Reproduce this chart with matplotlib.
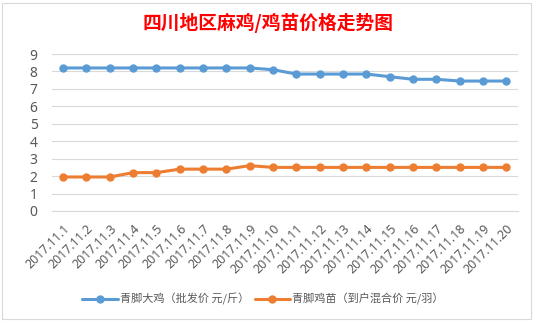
import matplotlib
matplotlib.use("Agg")
import matplotlib.pyplot as plt
from matplotlib.patches import Rectangle

plt.rcParams['font.family'] = ['Noto Sans CJK SC', 'DejaVu Sans']

dates = ["2017.11.1", "2017.11.2", "2017.11.3", "2017.11.4", "2017.11.5",
         "2017.11.6", "2017.11.7", "2017.11.8", "2017.11.9", "2017.11.10",
         "2017.11.11", "2017.11.12", "2017.11.13", "2017.11.14", "2017.11.15",
         "2017.11.16", "2017.11.17", "2017.11.18", "2017.11.19", "2017.11.20"]
big_chicken = [8.2, 8.2, 8.2, 8.2, 8.2, 8.2, 8.2, 8.2, 8.2, 8.1,
               7.85, 7.85, 7.85, 7.85, 7.7, 7.55, 7.55, 7.45, 7.45, 7.45]
chick = [1.95, 1.95, 1.95, 2.2, 2.2, 2.4, 2.4, 2.4, 2.6, 2.5,
         2.5, 2.5, 2.5, 2.5, 2.5, 2.5, 2.5, 2.5, 2.5, 2.5]
series_names = ["青脚大鸡（批发价 元/斤）", "青脚鸡苗（到户混合价 元/羽）"]
title = "四川地区麻鸡/鸡苗价格走势图"
yticks = list(range(0, 10))

W, H = 535, 322
fig = plt.figure(figsize=(W / 100, H / 100), dpi=100)
fig.patch.set_facecolor("white")

# faint outer frame (spreadsheet cell border)
fig.add_artist(Rectangle((2 / W, 3 / H), 529 / W, 316 / H, transform=fig.transFigure,
                         fill=False, edgecolor="#D9D9D9", linewidth=0.8))

ax = fig.add_axes([51.5 / W, 1 - 211 / H, 466.5 / W, 157 / H])
x = list(range(len(dates)))
ax.plot(x, big_chicken, color="#5B9BD5", linewidth=2.2, marker="o", markersize=5,
        label=series_names[0], solid_capstyle="round")
ax.plot(x, chick, color="#ED7D31", linewidth=2.2, marker="o", markersize=5,
        label=series_names[1], solid_capstyle="round")

ax.set_xlim(-0.5, len(dates) - 0.5)
ax.set_ylim(0, 9)
ax.set_yticks(yticks)
ax.set_yticklabels([str(v) for v in yticks], color="#595959", fontsize=10)
for lab in ax.get_yticklabels():
    lab.set_family(['Noto Sans'])
ax.yaxis.grid(True, color="#D9D9D9", linewidth=0.8)
ax.set_axisbelow(True)
for s in ["top", "right", "left"]:
    ax.spines[s].set_visible(False)
ax.spines["bottom"].set_color("#D9D9D9")
ax.spines["bottom"].set_linewidth(0.8)
ax.tick_params(axis="y", length=0, pad=10)
ax.tick_params(axis="x", length=0, pad=8)
ax.set_xticks(x)
ax.set_xticklabels(dates, rotation=45, ha="right", va="top", rotation_mode="anchor",
                   color="#595959", fontsize=9)
for lab in ax.get_xticklabels():
    lab.set_family(['Noto Sans'])

fig.text(268 / W, 1 - 23 / H, title, ha="center", va="center", color="#FF0000",
         fontsize=13.5, fontweight="bold")

leg = fig.legend(loc="center", bbox_to_anchor=(263 / W, 1 - 299 / H), ncol=2,
                 frameon=False, fontsize=8, handlelength=3.2, columnspacing=0.5,
                 handletextpad=0.2)
for t in leg.get_texts():
    t.set_color("#595959")

fig.savefig("out.png", dpi=100, facecolor="white")
